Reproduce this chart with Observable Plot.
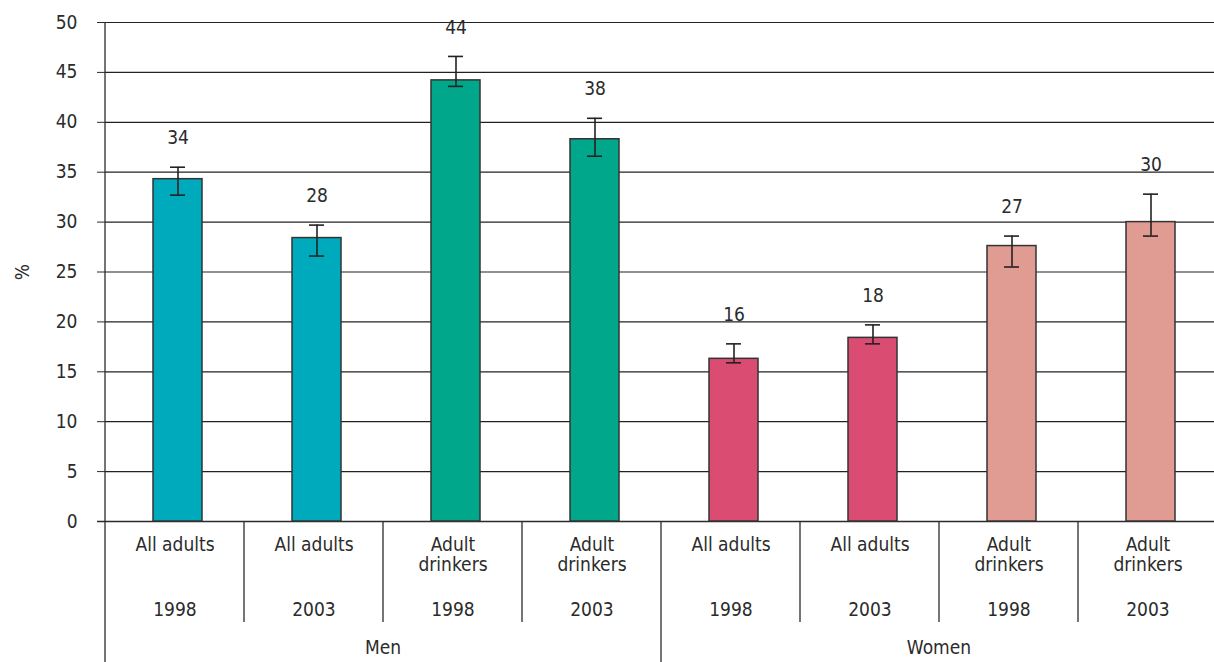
<!DOCTYPE html>
<html>
<head>
<meta charset="utf-8">
<script src="https://cdn.jsdelivr.net/npm/d3@7"></script>
<script src="https://cdn.jsdelivr.net/npm/@observablehq/plot@0.6"></script>
<style>
  html, body { margin: 0; padding: 0; background: #fff; }
  #chart svg { display: block; }
</style>
</head>
<body>
<div id="chart"></div>
<script>
const groups = ["Men", "Men", "Men", "Men", "Women", "Women", "Women", "Women"];
const categories = ["All adults", "All adults", "Adult\ndrinkers", "Adult\ndrinkers", "All adults", "All adults", "Adult\ndrinkers", "Adult\ndrinkers"];
const years = ["1998", "2003", "1998", "2003", "1998", "2003", "1998", "2003"];
const values = [34.3, 28.4, 44.2, 38.3, 16.3, 18.4, 27.6, 30.0];
const lower = [32.7, 26.6, 43.6, 36.6, 15.9, 17.8, 25.5, 28.6];
const upper = [35.5, 29.7, 46.6, 40.4, 17.8, 19.7, 28.6, 32.8];
const valueLabels = ["34", "28", "44", "38", "16", "18", "27", "30"];
const colors = ["#00AABD", "#00AABD", "#00A78B", "#00A78B", "#DB4C73", "#DB4C73", "#E09B92", "#E09B92"];
const groupNames = ["Men", "Women"];
const yTicks = [0, 5, 10, 15, 20, 25, 30, 35, 40, 45, 50];

const rows = values.map((v, i) => ({
  i, group: groups[i], category: categories[i], year: years[i],
  value: v, lo: lower[i], hi: upper[i], label: valueLabels[i], color: colors[i]
}));
const idx = rows.map(d => d.i);

const groupRows = groupNames.map(g => {
  const members = rows.filter(d => d.group === g).map(d => d.i);
  return {name: g, first: members[0], last: members[members.length - 1]};
});

const FONT = "'Liberation Sans Narrow', 'DejaVu Sans Condensed', 'Roboto Condensed', 'Liberation Sans', sans-serif";
const INK = "#2b2b2b";
const SHIFT = 3;

// vertical axis line, and separators under the axis (short between bars, long at group starts)
function separators(index, scales, values, dimensions) {
  const g = d3.create("svg:g").attr("stroke", INK).attr("stroke-width", 1.3);
  const y0 = scales.y(0);
  const starts = new Set(groupRows.map(d => d.first));
  g.append("line")
    .attr("x1", scales.x(0)).attr("x2", scales.x(0))
    .attr("y1", dimensions.marginTop).attr("y2", y0);
  rows.forEach(d => {
    const x = scales.x(d.i);
    const long = starts.has(d.i);
    g.append("line")
      .attr("x1", x).attr("x2", x)
      .attr("y1", y0).attr("y2", long ? dimensions.height : y0 + 101);
  });
  return g.node();
}

function groupLabels(index, scales, values, dimensions) {
  const g = d3.create("svg:g")
    .attr("font-family", FONT).attr("font-size", 19).attr("fill", INK)
    .attr("text-anchor", "middle");
  const y0 = scales.y(0);
  const bw = scales.x.bandwidth();
  groupRows.forEach(d => {
    const x = (scales.x(d.first) + scales.x(d.last) + bw) / 2;
    g.append("text").attr("x", x).attr("y", y0 + 126).attr("dy", "0.35em").text(d.name);
  });
  return g.node();
}

const chart = Plot.plot({
  width: 1214,
  height: 662,
  marginLeft: 105,
  marginRight: 0,
  marginTop: 22,
  marginBottom: 141,
  style: {fontFamily: FONT, fontSize: "19px", color: INK, background: "#fff"},
  x: {type: "band", domain: idx, padding: 0, align: 0.5, round: false, range: [105, 1217], axis: null},
  y: {domain: [0, 50], ticks: yTicks},
  marks: [
    Plot.gridY(yTicks, {stroke: "#222", strokeOpacity: 1, strokeWidth: 1.2}),
    Plot.axisY(yTicks, {
      tickSize: 8, tickPadding: 20, stroke: INK, fill: INK, fontSize: 19,
      label: "%", labelAnchor: "center", labelArrow: "none", labelOffset: 90
    }),
    Plot.ruleY([0], {stroke: INK, strokeWidth: 1.3, insetLeft: -8}),
    Plot.barY(rows, {
      x: "i", y: "value", fill: "color", stroke: "#333", strokeWidth: 1.5,
      insetLeft: 45 + SHIFT, insetRight: 45 - SHIFT
    }),
    Plot.ruleX(rows, {x: "i", y1: "lo", y2: "hi", dx: SHIFT, stroke: "#222", strokeWidth: 1.6}),
    Plot.tickY(rows, {x: "i", y: "lo", stroke: "#222", strokeWidth: 1.6, insetLeft: 62 + SHIFT, insetRight: 62 - SHIFT}),
    Plot.tickY(rows, {x: "i", y: "hi", stroke: "#222", strokeWidth: 1.6, insetLeft: 62 + SHIFT, insetRight: 62 - SHIFT}),
    Plot.text(rows, {x: "i", y: "hi", text: "label", dx: SHIFT, dy: -29, fill: INK, fontSize: 19}),
    Plot.text(rows, {
      x: "i", text: "category", frameAnchor: "bottom", lineAnchor: "top",
      dy: 15, lineHeight: 1.05, fill: INK, fontSize: 19
    }),
    Plot.text(rows, {
      x: "i", text: "year", frameAnchor: "bottom", lineAnchor: "middle",
      dy: 88, fill: INK, fontSize: 19
    }),
    separators,
    groupLabels
  ]
});

document.getElementById("chart").appendChild(chart);
</script>
</body>
</html>
